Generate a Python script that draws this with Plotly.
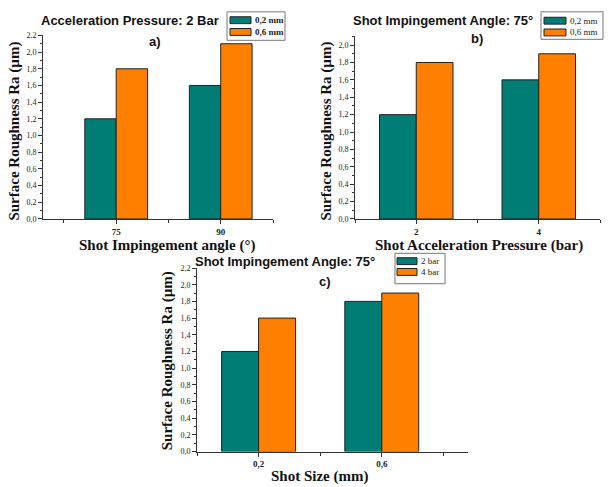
import plotly.graph_objects as go

W, H = 609, 487

# Panel a
a_cats = ["75", "90"]
a_02 = [1.2, 1.6]
a_06 = [1.8, 2.1]
# Panel b
b_cats = ["2", "4"]
b_02 = [1.2, 1.6]
b_06 = [1.8, 1.9]
# Panel c
c_cats = ["0,2", "0,6"]
c_2bar = [1.2, 1.8]
c_4bar = [1.6, 1.9]

TEAL = "#007d74"
ORANGE = "#ff8000"
pos = [0, 1]

fig = go.Figure()

def add_pair(name1, v1, name2, v2, xa, ya):
    fig.add_trace(go.Bar(x=pos, y=v1, name=name1, marker=dict(color=TEAL, line=dict(color="#222", width=1)),
                         xaxis=xa, yaxis=ya, offsetgroup="1", showlegend=False))
    fig.add_trace(go.Bar(x=pos, y=v2, name=name2, marker=dict(color=ORANGE, line=dict(color="#222", width=1)),
                         xaxis=xa, yaxis=ya, offsetgroup="2", showlegend=False))

add_pair("0,2 mm", a_02, "0,6 mm", a_06, "x", "y")
add_pair("0,2 mm", b_02, "0,6 mm", b_06, "x2", "y2")
add_pair("2 bar", c_2bar, "4 bar", c_4bar, "x3", "y3")

def px(x): return x / W
def py(y): return 1 - y / H

SERIF = "Times New Roman, Liberation Serif, serif"
tickfont = dict(family=SERIF, size=9, color="#222", weight="bold")
titlefont = dict(family=SERIF, size=15, color="#111", weight="bold")

def xaxis(dom, cats, rng, anchor):
    return dict(domain=dom, range=rng, tickmode="array", tickvals=pos, ticktext=cats,
                showline=True, linecolor="#333", linewidth=1, ticks="outside", ticklen=4,
                tickcolor="#333", tickfont=tickfont, showgrid=False, zeroline=False,
                minor=dict(ticks="outside", tick0=0.5, dtick=1, ticklen=3, tickcolor="#333"),
                anchor=anchor)

def yaxis(dom, rng, dtick, anchor):
    return dict(domain=dom, range=rng, dtick=dtick, tickformat=".1f",
                showline=True, linecolor="#333", linewidth=1, ticks="outside", ticklen=4,
                tickcolor="#333", tickfont=dict(family=SERIF, size=8, color="#222"),
                showgrid=False, zeroline=False,
                minor=dict(ticks="outside", dtick=0.1, ticklen=2, tickcolor="#333"),
                anchor=anchor)

fig.update_layout(
    width=W, height=H, margin=dict(l=0, r=0, t=0, b=0),
    paper_bgcolor="white", plot_bgcolor="white",
    separators=",.",
    barmode="group", bargap=0.4, bargroupgap=0,
    xaxis=xaxis([px(43), px(273)], a_cats, [-0.7, 1.5], "y"),
    yaxis=yaxis([py(219), py(32)], [0, 2.2], 0.2, "x"),
    xaxis2=xaxis([px(355), px(600)], b_cats, [-0.5, 1.5], "y2"),
    yaxis2=yaxis([py(219), py(33)], [0, 2.1], 0.2, "x2"),
    xaxis3=xaxis([px(197), px(468)], c_cats, [-0.5, 1.7], "y3"),
    yaxis3=yaxis([py(456), py(269)], [0, 2.2], 0.2, "x3"),
    showlegend=False,
)

def ann(text, x, y, font, angle=0, xanchor="center"):
    fig.add_annotation(text=text, x=px(x), y=py(y), xref="paper", yref="paper",
                       showarrow=False, font=font, xanchor=xanchor, yanchor="middle",
                       textangle=angle, borderpad=0)

# axis titles
for t, x, y in [("Shot Impingement angle (°)", 167, 246),
                ("Shot Acceleration Pressure (bar)", 479, 246),
                ("Shot Size (mm)", 320, 481)]:
    ann(t, x, y, titlefont)
for x, y in [(15, 130), (327, 130), (167, 364)]:
    ann("Surface Roughness Ra (µm)", x, y, dict(family=SERIF, size=15, color="#111", weight="bold"), angle=-90)

# headers
hfont = dict(family="Arial, Liberation Sans, sans-serif", size=13, color="#111", weight="bold")
for t, x, y in [("Acceleration Pressure: 2 Bar", 130, 17), ("a)", 155, 38),
                ("Shot Impingement Angle: 75°", 443, 17), ("b)", 477, 35),
                ("Shot Impingement Angle: 75°", 285, 262), ("c)", 325, 283)]:
    ann(t, x, y, hfont)

# legends (drawn manually)
def legend(box, sw_x, rows, labels, text_x, bold):
    x0, y0, x1, y1 = box
    fig.add_shape(type="rect", xref="paper", yref="paper", x0=px(x0), x1=px(x1), y0=py(y1), y1=py(y0),
                  line=dict(color="#777", width=1), fillcolor="rgba(0,0,0,0)")
    for (yc, col, lab) in zip(rows, [TEAL, ORANGE], labels):
        fig.add_shape(type="rect", xref="paper", yref="paper", x0=px(sw_x[0]), x1=px(sw_x[1]),
                      y0=py(yc + 3.5), y1=py(yc - 3.5), line=dict(color="#222", width=1), fillcolor=col)
        ann(lab, text_x, yc, dict(family=SERIF, size=9, color="#222", weight="bold" if bold else "normal"),
            xanchor="left")

legend((227, 8, 285, 37), (230, 251), (16.5, 28.5), ["0,2 mm", "0,6 mm"], 254, True)
legend((541, 8, 603, 36), (544, 566), (17, 29), ["0,2 mm", "0,6 mm"], 569, False)
legend((395, 254, 445, 285), (397, 417), (262, 273), ["2 bar", "4 bar"], 420, False)

fig.write_html("out.html", config={"displayModeBar": False},
               post_script="document.body.style.margin='0';document.body.style.overflow='hidden';")
